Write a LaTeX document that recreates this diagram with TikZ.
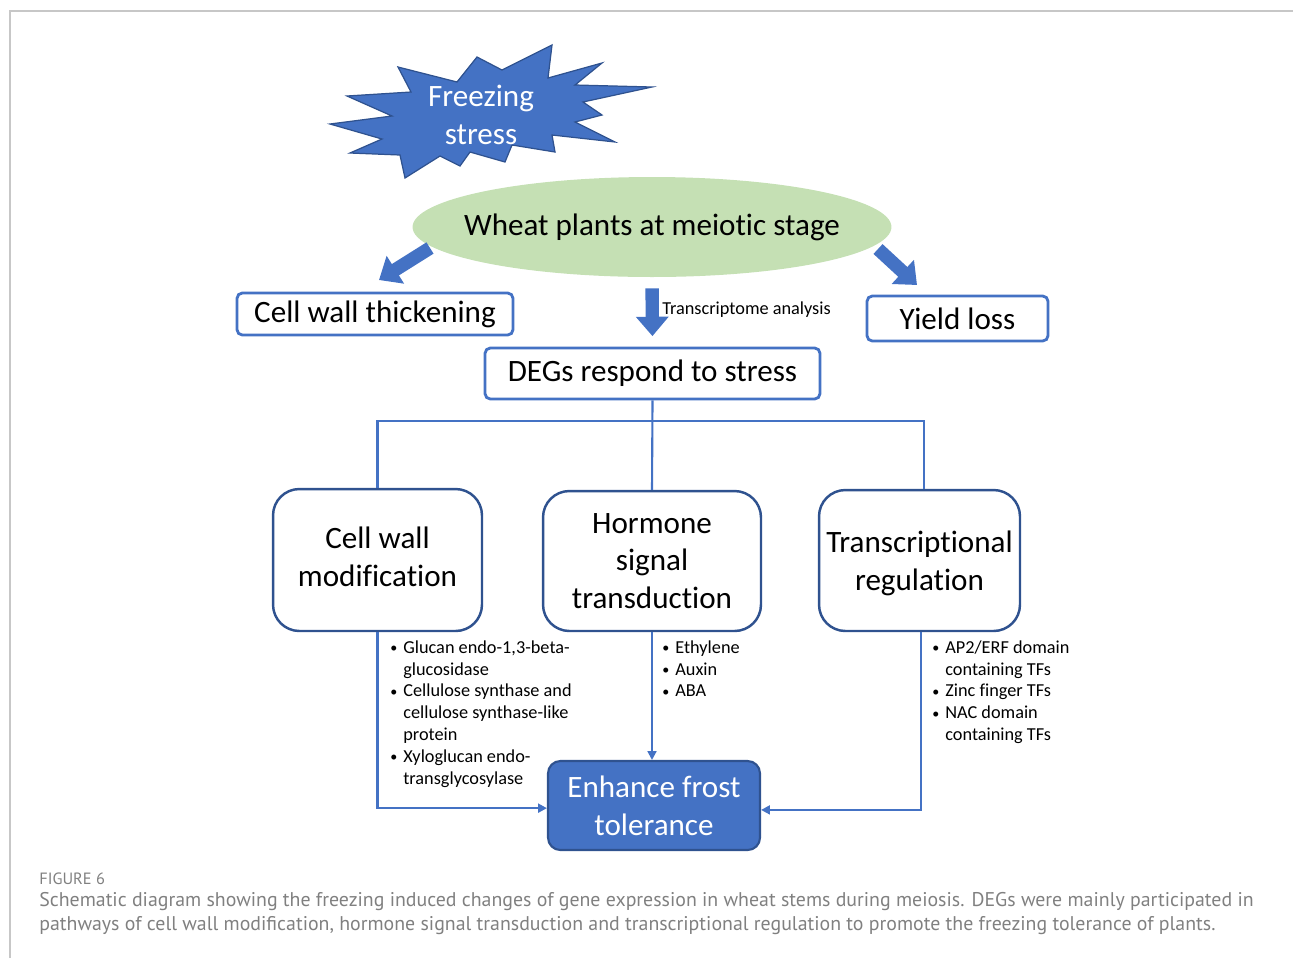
\documentclass[tikz,border=0pt]{standalone}
\usepackage{fontspec}
\setmainfont{Carlito}[Ligatures=NoCommon]
\newfontfamily\capfont{PT Sans}
\usetikzlibrary{arrows.meta,positioning,shapes.geometric}
\definecolor{officeblue}{HTML}{4472C4}
\definecolor{darkblue}{HTML}{2F528F}
\definecolor{leafgreen}{HTML}{C5E0B4}
\definecolor{capgray}{HTML}{808080}
\newcommand{\blt}{\makebox[7.4pt][l]{\fontsize{8}{8}\selectfont\raisebox{0.5pt}{\textbullet}}}
\newcommand{\bsp}{\hspace*{7.4pt}}
\tikzset{
    %Define standard arrow tip
    >={Triangle[length=5pt,width=5pt]},
    %Define style for boxes
    flatbox/.style={
           rectangle,
           rounded corners=3pt,
           draw=officeblue, line width=1.6pt,
           inner sep=0pt,
           font=\fontsize{17.7}{21.5}\selectfont,
           text centered},
    roundbox/.style={
           rectangle,
           rounded corners=15pt,
           draw=darkblue, line width=1.4pt,
           inner sep=0pt,
           align=center,
           font=\fontsize{17.7}{21.5}\selectfont},
    goalbox/.style={
           rectangle,
           rounded corners=7pt,
           draw=darkblue, line width=1.2pt,
           fill=officeblue,
           text=white,
           inner sep=0pt,
           align=center,
           font=\fontsize{17.7}{21.5}\selectfont},
    plantell/.style={
           ellipse,
           fill=leafgreen,
           inner sep=0pt,
           font=\fontsize{17.7}{21.5}\selectfont},
    startext/.style={
           text=white,
           align=center,
           inner sep=0pt,
           font=\fontsize{17.7}{21.5}\selectfont},
    bullets/.style={
           anchor=north west,
           align=left,
           inner sep=0pt,
           font=\fontsize{10.4}{12.5}\selectfont},
    captext/.style={
           anchor=west,
           inner sep=0pt,
           text=capgray},
    % Define arrow style
    link/.style={
           draw=officeblue,
           line width=1.2pt},
    blockarrow/.style={
           draw=officeblue,
           line width=7.6pt,
           -{Triangle[length=11pt,width=18pt]}}
}
\begin{document}
\begin{tikzpicture}[x=0.02cm,y=-0.02cm]
\useasboundingbox (0,0) rectangle (1293,958);
\draw[black!22, line width=0.6pt] (10,958) -- (10,11) -- (1293,11);
% freezing star
\filldraw[fill=officeblue, draw=darkblue, line width=0.7pt]
  (330,124) -- (392,116) -- (347,96) -- (411,92) -- (398,67) -- (457,82)
  -- (477,57) -- (502,70) -- (552,45) -- (548,78) -- (602,63) -- (575,85)
  -- (652,87) -- (583,102) -- (602,115) -- (575,122) -- (615,142)
  -- (552,135) -- (555,152) -- (512,145) -- (505,162) -- (470,152)
  -- (460,166) -- (440,156) -- (405,178) -- (400,155) -- (350,153)
  -- (382,139) -- cycle;
\node[startext] (frz) at (481,115) {Freezing\\stress};
\node[plantell, minimum width=9.58cm, minimum height=2cm] (wheat) at (652,227) {\makebox[0pt]{Wheat plants at meiotic stage}};
\node[flatbox, minimum width=5.52cm, minimum height=0.84cm] (cwt) at (375,314) {Cell wall thickening};
\node[flatbox, minimum width=3.62cm, minimum height=0.9cm] (yld) at (957.5,318.5) {Yield loss};
\node[flatbox, minimum width=6.7cm, minimum height=1.02cm] (degs) at (652.5,373.5) {DEGs respond to stress};
\node[anchor=west, inner sep=0pt, font=\fontsize{10.4}{12}\selectfont] (tra) at (662,310) {Transcriptome analysis};
% three pathways
\node[roundbox, text depth=4pt, minimum width=4.18cm, minimum height=2.84cm] (cwm) at (377.5,560) {Cell wall\\modification};
\node[roundbox, minimum width=4.36cm, minimum height=2.8cm] (hsm) at (652,561) {Hormone\\signal\\transduction};
\node[roundbox, text depth=-1.5pt, minimum width=4.02cm, minimum height=2.82cm] (tfr) at (919.5,560.5) {Transcriptional\\regulation};
\node[goalbox, minimum width=4.24cm, minimum height=1.78cm] (enh) at (654,805.5) {Enhance frost\\tolerance};
% block arrows
\coordinate (lt0) at (430,248);
\coordinate (lt1) at (379,280);
\coordinate (rt0) at (878,249);
\coordinate (rt1) at (917,285);
\draw[blockarrow] (lt0) -- (lt1);
\draw[blockarrow] (rt0) -- (rt1);
\draw[blockarrow, shorten <=0.22cm, shorten >=0.21cm] (wheat.south) -- (degs.north);
% tree lines
\coordinate (hub) at (652,421);
\draw[link] (degs.south) -- (hsm.north);
\draw[link] (cwm.north) |- (hub) -| ([xshift=2.5pt]tfr.north);
\draw[link,->] (cwm.south) |- ([yshift=-1.5pt]enh.west);
\draw[link,->] (hsm.south) -- (hsm.south |- enh.north);
\draw[link,->] ([xshift=1pt]tfr.south) |- ([yshift=-2.5pt]enh.east);
% gene lists
\node[bullets] (cwl) at (390,640) {\blt Glucan endo-1,3-beta-\\\bsp glucosidase\\\blt Cellulose synthase and\\\bsp cellulose synthase-like\\\bsp protein\\\blt Xyloglucan endo-\\\bsp transglycosylase};
\node[bullets] (hsl) at (662,640) {\blt Ethylene\\\blt Auxin\\\blt ABA};
\node[bullets] (tfl) at (932,640) {\blt AP2/ERF domain\\\bsp containing TFs\\\blt Zinc finger TFs\\\blt NAC domain\\\bsp containing TFs};
% caption
\node[captext, font=\capfont\fontsize{9.3}{11}\selectfont] (fig) at (39,879) {FIGURE 6};
\node[captext, font=\capfont\fontsize{11.3}{13}\selectfont] (cap1) at (39,902) {Schematic diagram showing the freezing induced changes of gene expression in wheat stems during meiosis. DEGs were mainly participated in};
\node[captext, font=\capfont\fontsize{11.3}{13}\selectfont] (cap2) at (39,926) {pathways of cell wall modification, hormone signal transduction and transcriptional regulation to promote the freezing tolerance of plants.};
\end{tikzpicture}
\end{document}
